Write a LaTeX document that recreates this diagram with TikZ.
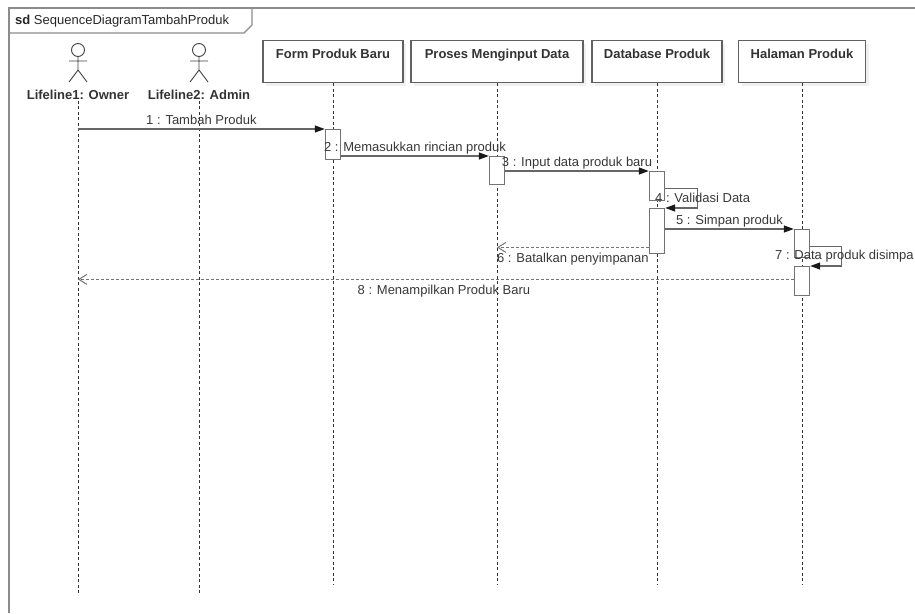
\documentclass[tikz,border=0pt]{standalone}
\usepackage{fontspec}
\setmainfont{Liberation Sans}
\usetikzlibrary{arrows.meta,calc,shadows,positioning}

\begin{document}
\begin{tikzpicture}[x=1pt,y=-1pt,
    font=\fontsize{13}{15}\selectfont,
    frame/.style={draw=black!45,line width=1.3pt},
    objbox/.style={draw=black!62,line width=1.3pt,fill=white,inner xsep=0pt,inner ysep=8pt,
      text height=10pt,text depth=16pt,anchor=north,text=black!80,
      font=\fontsize{13}{15}\selectfont\bfseries,
      drop shadow={opacity=0.12,shadow xshift=3pt,shadow yshift=-3pt}},
    actorlbl/.style={font=\fontsize{13}{15}\selectfont\bfseries,text=black!80,anchor=base,inner sep=1pt},
    actorfig/.style={draw=black!75,line width=0.9pt},
    lifeline/.style={draw=black!80,line width=0.9pt,dash pattern=on 3pt off 2.5pt},
    act/.style={draw=black!55,line width=1.4pt,fill=white,minimum width=15pt,inner sep=0pt,anchor=north},
    msg/.style={draw=black!60,line width=1.3pt,-{Triangle[length=10pt,width=7pt,color=black!90]}},
    ret/.style={draw=black!55,line width=1pt,dash pattern=on 3pt off 2pt,-{Straight Barb[length=8pt,width=10pt]}},
    lbl/.style={text=black!78,inner sep=0pt,anchor=base},
  ]
  \useasboundingbox (0,0) rectangle (915,613);

  % frame
  \draw[frame] (9,613) -- (9,8) -- (915,8);
  \draw[frame] (9,33) -- (244,33) -- (252,25) -- (252,8);
  \node[lbl,anchor=base west,text=black!85] (title) at (15,24.5) {\textbf{sd} SequenceDiagramTambahProduk};

  % actors
  \draw[actorfig] (78,50) circle[radius=6.5pt] (78,56.5) -- (78,70) (69,61) -- (87,61) (69,82) -- (78,70) -- (87,82);
  \draw[actorfig] (199,50) circle[radius=6.5pt] (199,56.5) -- (199,70) (190,61) -- (208,61) (190,82) -- (199,70) -- (208,82);
  \node[actorlbl] (owner) at (78,99.5) {Lifeline1: Owner};
  \node[actorlbl] (admin) at (199,99.5) {Lifeline2: Admin};

  % objects
  \node[objbox,minimum width=140pt] (form) at (333,40) {Form Produk Baru};
  \node[objbox,minimum width=172pt] (proses) at (497,40) {Proses Menginput Data};
  \node[objbox,minimum width=130pt] (db) at (657,40) {Database Produk};
  \node[objbox,minimum width=127pt] (halaman) at (802,40) {Halaman Produk};

  % lifelines
  \coordinate (actorEnd) at (0,594);
  \coordinate (objEnd) at (0,585);
  \draw[lifeline] (owner.south) -- (owner |- actorEnd);
  \draw[lifeline] (admin.south) -- (admin |- actorEnd);
  \draw[lifeline] (form.south) -- (form |- objEnd);
  \draw[lifeline] (proses.south) -- (proses |- objEnd);
  \draw[lifeline] (db.south) -- (db |- objEnd);
  \draw[lifeline] (halaman.south) -- (halaman |- objEnd);

  % activations
  \node[act,minimum height=30pt] (actForm) at (333,129) {};
  \node[act,minimum height=28pt] (actProses) at (497,156) {};
  \node[act,minimum height=29pt] (actDb1) at (657,171) {};
  \node[act,minimum height=45pt] (actDb2) at (657,208) {};
  \node[act,minimum height=28pt] (actHal1) at (802,229) {};
  \node[act,minimum height=29pt] (actHal2) at (802,266) {};

  % messages
  \draw[msg] (owner |- actForm.north west) -- node[lbl,yshift=5pt] {1 : Tambah Produk} (actForm.north west);
  \draw[msg] (actForm.east |- actProses.north) -- node[lbl,yshift=5pt] {2 : Memasukkan rincian produk} (actProses.north west);
  \draw[msg] (actProses.east |- actDb1.north) -- node[lbl,yshift=5pt] {3 : Input data produk baru} (actDb1.north west);
  \draw[msg] ($(actDb1.east)+(0,2)$) -- ++(32,0) |- (actDb2.north east);
  \node[lbl,anchor=base west] (m4) at (655,202) {4 : Validasi Data};
  \draw[msg] (actDb2.east |- actHal1.north) -- node[lbl,yshift=5pt] {5 : Simpan produk} (actHal1.north west);
  \coordinate (r6) at ($(actDb2.south west)+(0,-7)$);
  \draw[ret] (r6) -- node[lbl,yshift=-15pt] {6 : Batalkan penyimpanan} (proses |- r6);
  \draw[msg] ($(actHal1.east)+(0,3)$) -- ++(31,0) |- (actHal2.north east);
  \node[lbl,anchor=base west] (m7) at (775,259) {7 : Data produk disimpa};
  \coordinate (r8) at ($(actHal2.south west)+(0,-17)$);
  \draw[ret] (r8) -- node[lbl,yshift=-15pt,xshift=8pt] {8 : Menampilkan Produk Baru} (owner |- r8);
\end{tikzpicture}
\end{document}
